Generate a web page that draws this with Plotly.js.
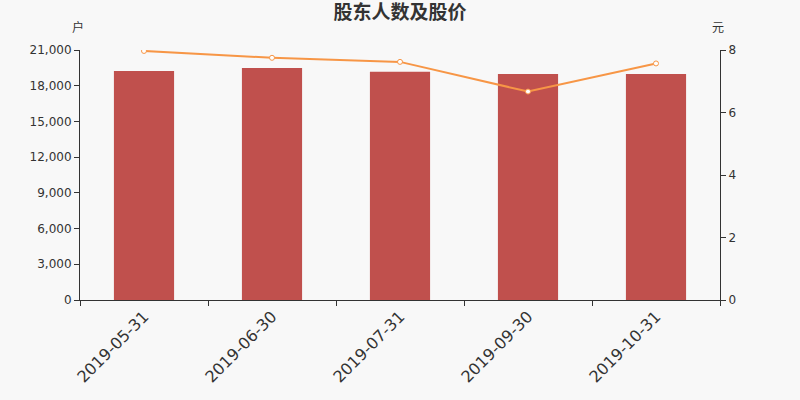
<!DOCTYPE html>
<html>
<head>
<meta charset="utf-8">
<script src="https://cdn.plot.ly/plotly-3.0.1.min.js"></script>
<style>
  body { margin: 0; background: #f8f8f8; }
  #chart { width: 800px; height: 400px; }
</style>
</head>
<body>
<div id="chart"></div>
<script>
// dates, holder counts and share price
const dates = ['2019-05-31', '2019-06-30', '2019-07-31', '2019-09-30', '2019-10-31'];
const holders = [19230, 19480, 19180, 18980, 18980];
const prices = [7.97, 7.75, 7.62, 6.67, 7.57];

let bars = {
    x: dates,
    y: holders,
    type: 'bar',
    name: '股东人数',
    marker: { color: '#c0504d' },
    hoverinfo: 'x+y'
};

let line = {
    x: dates,
    y: prices,
    type: 'scatter',
    mode: 'lines+markers',
    name: '股价',
    yaxis: 'y2',
    line: { color: '#f79646', width: 2 },
    marker: { size: 5, color: '#ffffff', line: { color: '#f79646', width: 1 } }
};

let font = 'DejaVu Sans, Noto Sans CJK SC, sans-serif';

let layout = {
    width: 800,
    height: 400,
    paper_bgcolor: '#f8f8f8',
    plot_bgcolor: '#f8f8f8',
    showlegend: false,
    bargap: 0.53,
    margin: { l: 80, r: 80, t: 50, b: 100 },
    font: { family: font, color: '#333' },
    title: {
        text: '<b>股东人数及股价</b>',
        font: { family: font, size: 19, color: '#333' },
        x: 0.5,
        y: 0.985,
        yanchor: 'top'
    },
    xaxis: {
        type: 'category',
        tickson: 'boundaries',
        ticks: 'outside',
        ticklen: 5,
        tickcolor: '#333',
        showline: true,
        linecolor: '#333',
        tickangle: -45,
        tickfont: { size: 16, color: '#333' },
        showgrid: false
    },
    yaxis: {
        range: [0, 21000],
        dtick: 3000,
        tickformat: ',d',
        ticks: 'outside',
        ticklen: 5,
        tickcolor: '#333',
        showline: true,
        linecolor: '#333',
        showgrid: false,
        zeroline: false,
        tickfont: { size: 12, color: '#333' }
    },
    yaxis2: {
        range: [0, 8],
        dtick: 2,
        overlaying: 'y',
        side: 'right',
        ticks: 'outside',
        ticklen: 5,
        tickcolor: '#333',
        showline: true,
        linecolor: '#333',
        showgrid: false,
        zeroline: false,
        tickfont: { size: 12, color: '#333' }
    },
    annotations: [
        { text: '户', xref: 'paper', yref: 'paper', x: -0.003, y: 1.088, xanchor: 'center', yanchor: 'middle', showarrow: false, font: { size: 12, color: '#333' } },
        { text: '元', xref: 'paper', yref: 'paper', x: 0.997, y: 1.088, xanchor: 'center', yanchor: 'middle', showarrow: false, font: { size: 12, color: '#333' } }
    ]
};

Plotly.newPlot('chart', [bars, line], layout, { displayModeBar: false });
</script>
</body>
</html>
